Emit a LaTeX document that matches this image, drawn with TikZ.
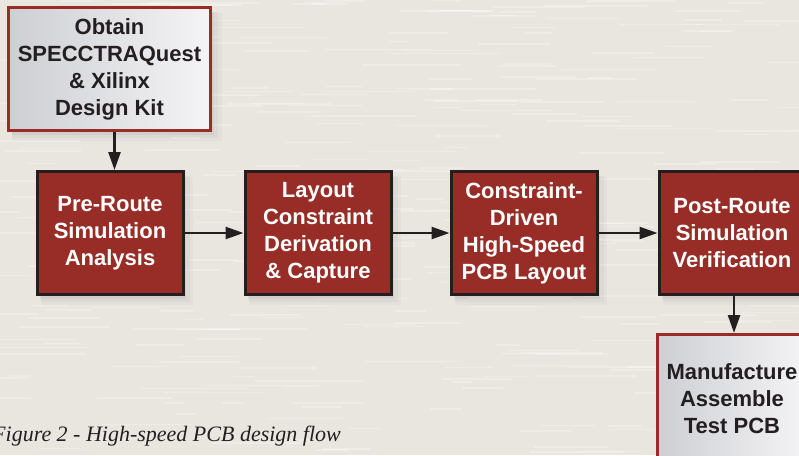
\documentclass[tikz,border=0pt]{standalone}
\usepackage{fontspec}
\setmainfont{Liberation Sans}
\newfontfamily\capfont{Liberation Serif}
\usetikzlibrary{arrows.meta,shadows}

\definecolor{brick}{RGB}{151,45,38}
\definecolor{paper}{RGB}{233,229,223}
\definecolor{ink}{RGB}{35,31,32}
\definecolor{steel}{RGB}{206,207,211}
\definecolor{silver}{RGB}{244,244,246}

\begin{document}
\begin{tikzpicture}[x=1pt, y=-1pt,
  every node/.style={font=\fontsize{22}{27}\selectfont\bfseries, align=center},
  boxshadow/.style={
    drop shadow={shadow xshift=7pt, shadow yshift=-8pt, shadow scale=1.04, opacity=0.05},
    drop shadow={shadow xshift=5pt, shadow yshift=-6pt, shadow scale=1.02, opacity=0.07},
    drop shadow={shadow xshift=3pt, shadow yshift=-4pt, opacity=0.10}},
  redbox/.style={draw=ink, line width=3pt, fill=brick, text=white, minimum width=146pt, minimum height=123pt, boxshadow},
  greybox/.style={draw=brick, line width=3pt, left color=steel, right color=silver, text=ink, boxshadow},
  flow/.style={draw=ink, line width=2.5pt, -{Triangle[length=18pt,width=12pt]}}]

% paper background with streaks
\useasboundingbox (0,0) rectangle (799,455);
\fill[paper] (0,0) rectangle (799,455);
\pgfmathsetseed{11}
\foreach \i in {1,...,320}{
  \pgfmathsetmacro\xa{rnd*820-20}
  \pgfmathsetmacro\ya{rnd*455}
  \pgfmathsetmacro\len{20+rnd*90}
  \draw[white, opacity=0.3, line width=1.6pt] (\xa,\ya) -- ++(\len,0);
}

% boxes
\node[greybox, minimum width=202pt, minimum height=123pt] (kit) at (109.5, 69) {Obtain\\SPECCTRAQuest\\\& Xilinx\\Design Kit};
\node[redbox] (pre) at (110, 233) {Pre-Route\\Simulation\\Analysis};
\node[redbox] (cons) at (318, 233) {Layout\\Constraint\\Derivation\\\& Capture};
\node[redbox] (pcb) at (524, 233) {Constraint-\\Driven\\High-Speed\\PCB Layout};
\node[redbox] (post) at (732, 233) {Post-Route\\Simulation\\Verification};
\node[greybox, minimum width=150pt, minimum height=129pt] (mfg) at (732, 399) {Manufacture\\Assemble\\Test PCB};

% arrows
\draw[flow] ([xshift=5pt]kit.south) -- ([xshift=5pt]kit.south |- pre.north);
\draw[flow] (pre) -- (cons);
\draw[flow] (cons) -- (pcb);
\draw[flow] (pcb) -- (post);
\draw[flow] ([xshift=2pt]post.south) -- ([xshift=2pt]mfg.north);

\node[font=\capfont\itshape\fontsize{22}{26}\selectfont, text=ink, anchor=base west, inner sep=0pt] (cap) at (-8, 441) {Figure 2 - High-speed PCB design flow};
\end{tikzpicture}
\end{document}
